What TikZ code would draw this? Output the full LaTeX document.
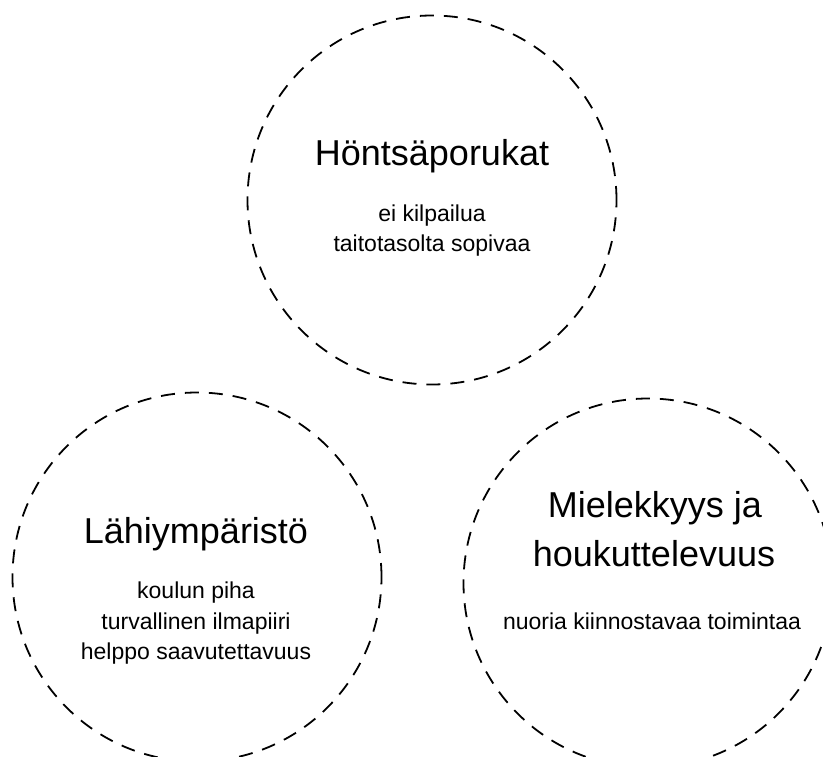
\documentclass[tikz,border=0pt]{standalone}
\usepackage{fontspec}
\setmainfont{Liberation Sans}
\begin{document}
\begin{tikzpicture}[x=1pt,y=-1pt,
  zone/.style={circle, draw=black, line width=1.8pt, dash pattern=on 14pt off 10pt, minimum size=369pt, inner sep=0pt},
  title/.style={anchor=base, inner sep=0pt, font=\fontsize{36}{44}\selectfont},
  sub/.style={anchor=base, inner sep=0pt, font=\fontsize{23}{28}\selectfont}]
\useasboundingbox (0,0) rectangle (823,756);
\begin{scope}
\clip (0,0) rectangle (823,756);
\node[zone] (top) at (432,200) {};
\node[zone] (left) at (197,577) {};
\node[zone] (right) at (648,583) {};
\end{scope}
% top circle
\node[title] (t1) at (432,165) {Höntsäporukat};
\node[sub] (t2) at (432,221) {ei kilpailua};
\node[sub] (t3) at (432,251) {taitotasolta sopivaa};
% bottom-left circle
\node[title] (l1) at (196,543) {Lähiympäristö};
\node[sub] (l2) at (196,598) {koulun piha};
\node[sub] (l3) at (196,629) {turvallinen ilmapiiri};
\node[sub] (l4) at (196,659) {helppo saavutettavuus};
% bottom-right circle
\node[title] (r1) at (655,517) {Mielekkyys ja};
\node[title] (r2) at (654,566) {houkuttelevuus};
\node[sub] (r3) at (652,629) {nuoria kiinnostavaa toimintaa};
\end{tikzpicture}
\end{document}
